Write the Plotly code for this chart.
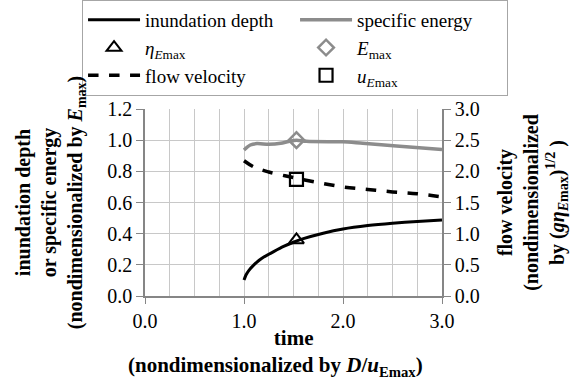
import plotly.graph_objects as go

# time (nondimensionalized)
t_depth = [1.0, 1.02, 1.05, 1.1, 1.15, 1.2, 1.3, 1.4, 1.5, 1.6, 1.8, 2.0, 2.25, 2.5, 2.75, 3.0]
depth = [0.103, 0.135, 0.165, 0.2, 0.228, 0.25, 0.285, 0.318, 0.345, 0.368, 0.403, 0.43, 0.452, 0.467, 0.478, 0.487]

t_energy = [1.0, 1.064, 1.13, 1.25, 1.37, 1.45, 1.53, 1.63, 1.87, 2.0, 2.2, 2.54, 3.0]
energy = [0.937, 0.969, 0.978, 0.974, 0.980, 0.992, 1.0, 0.993, 0.99, 0.99, 0.98, 0.963, 0.94]

t_vel = [1.0, 1.1, 1.25, 1.5, 1.75, 2.0, 2.25, 2.5, 2.75, 3.0]
velocity = [2.17, 2.07, 1.99, 1.90, 1.82, 1.75, 1.71, 1.67, 1.64, 1.59]

t_Emax = [1.53]
eta_Emax = [0.36]
E_max = [1.0]
u_Emax = [1.87]

x_ticks = [0.0, 1.0, 2.0, 3.0]
y_ticks = [0.0, 0.2, 0.4, 0.6, 0.8, 1.0, 1.2]
y2_ticks = [0.0, 0.5, 1.0, 1.5, 2.0, 2.5, 3.0]

NB = "&nbsp;" * 7
x_title = ("<b>time</b><br>"
           "<b>(nondimensionalized by <i>D</i>/<i>u</i><sub>Emax</sub>)" + NB + "</b>")

GREY = "#8c8c8c"
FONT = "Liberation Serif, Times New Roman, serif"

fig = go.Figure()
fig.add_trace(go.Scatter(x=t_depth, y=depth, mode="lines", name="inundation depth",
                         line=dict(color="black", width=3, shape="spline", smoothing=0.6)))
fig.add_trace(go.Scatter(x=t_energy, y=energy, mode="lines", name="specific energy",
                         line=dict(color=GREY, width=3.5, shape="spline", smoothing=0.8)))
fig.add_trace(go.Scatter(x=t_Emax, y=eta_Emax, mode="markers",
                         name="<i>η</i><sub><i>E</i>max</sub>",
                         marker=dict(symbol="triangle-up-open", size=13, color="black",
                                     line=dict(width=2, color="black"))))
fig.add_trace(go.Scatter(x=t_Emax, y=E_max, mode="markers",
                         name="<i>E</i><sub>max</sub>",
                         marker=dict(symbol="diamond-open", size=12, color=GREY,
                                     line=dict(width=2.5, color=GREY))))
fig.add_trace(go.Scatter(x=t_vel, y=velocity, mode="lines", name="flow velocity", yaxis="y2",
                         line=dict(color="black", width=3.5, dash="dash", shape="spline")))
fig.add_trace(go.Scatter(x=t_Emax, y=u_Emax, mode="markers", yaxis="y2",
                         name="<i>u</i><sub><i>E</i>max</sub>",
                         marker=dict(symbol="square-open", size=13, color="black",
                                     line=dict(width=2.2, color="black"))))

fig.update_layout(
    width=571, height=378,
    margin=dict(l=145, r=129, t=109, b=82, autoexpand=False),
    paper_bgcolor="white", plot_bgcolor="white",
    font=dict(family=FONT, size=20, color="black"),
    showlegend=True,
    legend=dict(orientation="h", x=-0.212, xanchor="left", y=1.583, yanchor="top",
                entrywidth=145, entrywidthmode="pixels", itemwidth=52,
                bordercolor="#a6a6a6", borderwidth=1, bgcolor="white",
                font=dict(family=FONT, size=19), tracegroupgap=0),
    xaxis=dict(range=[0, 3], tickvals=x_ticks, ticktext=[f"{v:.1f}" for v in x_ticks],
               showgrid=True, gridcolor="#c8c8c8", gridwidth=1,
               minor=dict(dtick=0.25, showgrid=True, gridcolor="#c8c8c8", gridwidth=1, ticks=""),
               ticks="outside", ticklen=6, tickcolor="#868686",
               showline=True, linecolor="#868686", linewidth=1.5, zeroline=False,
               tickfont=dict(size=20)),
    yaxis=dict(range=[0, 1.2], tickvals=y_ticks, ticktext=[f"{v:.1f}" for v in y_ticks],
               showgrid=True, gridcolor="#c8c8c8", gridwidth=1,
               ticks="outside", ticklen=7, tickcolor="#868686",
               showline=True, linecolor="#868686", linewidth=1.5, zeroline=False,
               tickfont=dict(size=20),
               title=dict(text="<b>inundation depth</b><br><b>or specific energy</b><br><b>(nondimensionalized by <i>E</i><sub>max</sub>)</b>",
                          font=dict(size=20), standoff=19)),
    yaxis2=dict(range=[0, 3], tickvals=y2_ticks, ticktext=[f"{v:.1f}" for v in y2_ticks],
                overlaying="y", side="right", showgrid=False,
                ticks="outside", ticklen=7, tickcolor="#868686",
                showline=True, linecolor="#868686", linewidth=1.5, zeroline=False,
                tickfont=dict(size=20),
                title=dict(text="<b>flow velocity</b><br><b>(nondimensionalized</b><br><b>by (<i>gη</i><sub><i>E</i>max</sub>)<sup>1/2</sup> )</b>",
                           font=dict(size=20), standoff=25)),
    annotations=[
        dict(text=x_title, xref="paper", yref="paper", x=0.5, y=0, xanchor="center",
             yanchor="middle", yshift=-57, showarrow=False, align="center",
             font=dict(size=21)),
    ],
)

fig.write_html("out.html")
